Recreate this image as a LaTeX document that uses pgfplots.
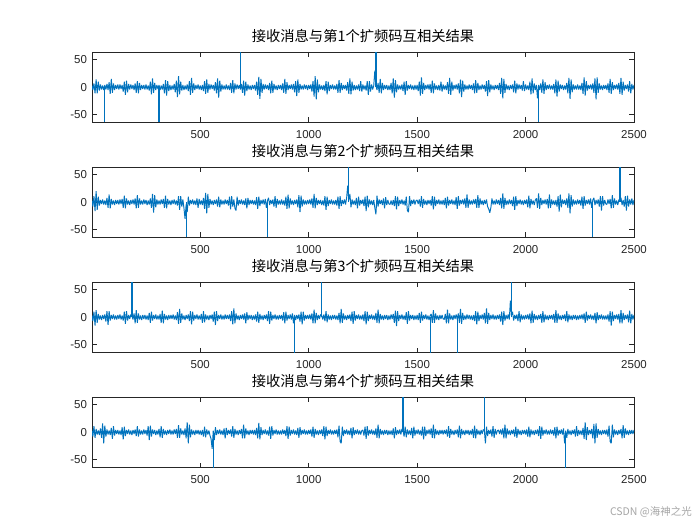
\documentclass[border=0pt]{standalone}
\usepackage{fontspec}
\setmainfont{Liberation Sans}
\newfontfamily\cjk{Noto Sans CJK SC}
\usepackage{pgfplots}
\usepackage{pgfplotstable}
\pgfplotsset{compat=1.18}
\definecolor{mblue}{HTML}{0072BD}
\definecolor{mgray}{HTML}{262626}

% correlation noise, every 5th sample (row i -> x = 5 i)
\pgfplotstableread[row sep=\\]{y\\
4\\-5\\7\\-11\\14\\-11\\10\\-6\\5\\-4\\3\\-5\\4\\-4\\6\\-5\\9\\-12\\15\\-10\\7\\-5\\4\\-3\\5\\
-4\\5\\-3\\4\\-8\\10\\-14\\12\\-9\\6\\-4\\5\\-3\\4\\-5\\7\\-10\\11\\-11\\8\\-5\\4\\-3\\4\\-4\\
5\\-4\\3\\-6\\10\\-13\\16\\-10\\8\\-5\\4\\-3\\4\\-5\\3\\-4\\6\\-11\\13\\-15\\11\\-7\\4\\-5\\3\\
-4\\6\\-9\\12\\-18\\20\\-13\\10\\-6\\4\\-5\\3\\-4\\5\\-7\\11\\-14\\17\\-10\\7\\-5\\4\\-3\\5\\-4\\
3\\-5\\4\\-7\\11\\-12\\14\\-10\\6\\-4\\5\\-3\\4\\-6\\9\\-11\\16\\-19\\12\\-8\\5\\-4\\3\\-4\\5\\
-4\\3\\-5\\8\\-10\\13\\-11\\7\\-4\\5\\-3\\4\\-4\\6\\-10\\12\\-15\\10\\-7\\5\\-4\\3\\-5\\4\\-3\\
4\\-6\\10\\-14\\19\\-21\\15\\-10\\6\\-4\\5\\-3\\4\\-5\\8\\-11\\12\\-10\\6\\-4\\3\\-5\\4\\-3\\4\\
-5\\7\\-10\\15\\-12\\9\\-5\\4\\-3\\5\\-4\\6\\-9\\11\\-16\\14\\-10\\6\\-4\\3\\-4\\5\\-3\\4\\-5\\
4\\-3\\5\\-8\\11\\-17\\20\\-22\\14\\-9\\5\\-4\\3\\-5\\4\\-7\\11\\-13\\10\\-7\\4\\-3\\5\\-4\\3\\
-4\\6\\-10\\13\\-10\\8\\-5\\4\\-3\\4\\-6\\9\\-12\\16\\-13\\10\\-6\\4\\-5\\3\\-4\\5\\-7\\11\\-8\\
5\\-4\\3\\-6\\11\\-14\\11\\-8\\5\\-4\\3\\30\\4\\-5\\8\\-10\\15\\-11\\8\\-5\\4\\-3\\4\\-5\\3\\
-5\\8\\-11\\16\\-19\\13\\-9\\5\\-4\\3\\-4\\5\\-7\\10\\-14\\11\\-6\\4\\-3\\5\\-4\\3\\-5\\4\\-4\\
4\\-7\\10\\-15\\18\\-12\\8\\-5\\4\\-3\\5\\-4\\6\\-10\\12\\-11\\7\\-4\\3\\-5\\4\\-6\\10\\-8\\5\\
-4\\3\\-5\\9\\-12\\17\\-14\\10\\-6\\4\\-3\\5\\-4\\7\\-11\\14\\-18\\12\\-8\\5\\-4\\3\\-4\\5\\-3\\
4\\-5\\7\\-11\\13\\-10\\8\\-5\\3\\-4\\5\\-3\\4\\-8\\11\\-16\\13\\-9\\5\\-4\\3\\-5\\4\\-3\\4\\
-5\\8\\-12\\17\\-20\\15\\-10\\6\\-4\\3\\-5\\4\\-3\\5\\-9\\12\\-11\\7\\-4\\5\\-3\\4\\-6\\11\\-7\\
5\\-4\\3\\-5\\10\\-13\\16\\-11\\7\\-5\\4\\-20\\4\\-5\\7\\-10\\14\\-12\\9\\-5\\4\\-3\\5\\-4\\3\\
-4\\6\\-11\\14\\-17\\12\\-8\\5\\-3\\4\\-5\\3\\-4\\8\\-11\\17\\-21\\14\\-9\\5\\-4\\3\\-4\\5\\-4\\
3\\-5\\8\\-12\\18\\-15\\11\\-6\\4\\-3\\5\\-4\\7\\-10\\16\\-22\\18\\-10\\7\\-4\\3\\-5\\4\\-3\\4\\
-5\\7\\-10\\15\\-12\\9\\-5\\4\\-3\\5\\-4\\8\\-12\\17\\-14\\10\\-6\\4\\-3\\5\\-8\\11\\-11\\6\\-4\\
4\\
}\dataA

\pgfplotstableread[row sep=\\]{y\\
5\\-8\\11\\-16\\20\\-14\\10\\-6\\4\\-3\\5\\-4\\3\\-5\\8\\-10\\14\\-11\\6\\-4\\3\\-5\\4\\-3\\4\\
-4\\5\\-3\\6\\-10\\12\\-11\\7\\-4\\3\\-5\\4\\-3\\5\\-4\\7\\-11\\13\\-10\\7\\-4\\3\\-4\\5\\-3\\
4\\-5\\3\\-4\\7\\-10\\15\\-19\\13\\-9\\5\\-4\\3\\-4\\5\\-3\\6\\-10\\12\\-11\\6\\-4\\3\\-5\\4\\
-3\\5\\-4\\3\\-6\\11\\-14\\11\\-8\\5\\-11\\-30\\-4\\-18\\10\\-6\\4\\-3\\5\\-4\\3\\-5\\7\\-10\\6\\
-4\\3\\-5\\8\\-12\\17\\-20\\15\\-10\\6\\-4\\3\\-5\\4\\-3\\5\\-8\\10\\-9\\5\\-4\\3\\-4\\5\\-3\\
4\\-6\\10\\-13\\11\\-8\\5\\-11\\-15\\10\\-6\\4\\-3\\5\\-4\\3\\-5\\7\\-11\\8\\-5\\4\\-3\\4\\-4\\
3\\-5\\9\\-12\\10\\-7\\4\\-3\\5\\-4\\6\\-10\\3\\8\\-5\\4\\-3\\5\\-8\\11\\-10\\6\\-4\\3\\-4\\
5\\-4\\3\\-6\\10\\-12\\14\\-11\\7\\-4\\3\\-5\\4\\-3\\5\\-9\\13\\-18\\12\\-8\\5\\-4\\3\\-4\\4\\
-3\\5\\-4\\7\\-10\\15\\-11\\8\\-5\\4\\-3\\4\\-5\\3\\-6\\11\\-14\\10\\-7\\4\\-3\\5\\-4\\3\\-4\\
4\\-6\\10\\-12\\11\\-7\\4\\-3\\5\\-4\\8\\30\\4\\15\\-9\\5\\-4\\3\\-5\\8\\-11\\10\\-6\\4\\-3\\
5\\-7\\10\\-16\\12\\-9\\5\\-4\\3\\-5\\4\\-10\\-22\\12\\-8\\5\\-3\\4\\-5\\7\\-11\\9\\-5\\4\\-3\\
-4\\3\\-5\\4\\-7\\11\\-13\\10\\-7\\4\\-3\\5\\-4\\3\\-6\\10\\-15\\-18\\11\\-7\\4\\-3\\5\\-4\\3\\
4\\-3\\5\\-8\\11\\-10\\6\\-4\\3\\-5\\4\\-3\\4\\-6\\11\\-13\\10\\-7\\4\\-3\\5\\-4\\3\\-4\\4\\
-5\\8\\-11\\10\\-6\\4\\-3\\5\\-4\\3\\-5\\9\\-12\\11\\-6\\4\\-3\\5\\-4\\7\\-10\\14\\-10\\5\\-4\\
3\\-4\\5\\-3\\6\\-10\\13\\-10\\7\\-4\\3\\-5\\4\\-3\\5\\-8\\-12\\-19\\-10\\7\\-4\\3\\-4\\5\\-3\\
4\\-5\\8\\-11\\16\\-12\\8\\-5\\3\\-4\\5\\-3\\4\\-7\\10\\-14\\11\\-7\\4\\-3\\5\\-4\\3\\-5\\4\\
-3\\5\\-9\\12\\-11\\6\\-4\\3\\-5\\4\\7\\-10\\16\\-12\\8\\-5\\4\\-3\\5\\-4\\6\\-11\\14\\-10\\5\\
-4\\3\\-5\\4\\-8\\11\\-17\\14\\-9\\5\\-3\\4\\-5\\7\\-10\\16\\-20\\13\\-8\\5\\-4\\3\\-4\\5\\-3\\
4\\-6\\10\\-12\\11\\-6\\4\\-3\\5\\-4\\7\\-10\\4\\8\\-5\\4\\-3\\5\\-8\\11\\-15\\11\\-6\\4\\-3\\
-4\\5\\-3\\6\\-11\\13\\-10\\7\\-4\\3\\-5\\4\\6\\8\\-5\\4\\-8\\11\\-15\\12\\-8\\5\\-4\\7\\-5\\
4\\
}\dataB

\pgfplotstableread[row sep=\\]{y\\
4\\-7\\10\\-15\\13\\-10\\6\\-4\\3\\-5\\4\\-3\\5\\-8\\11\\-14\\11\\-6\\4\\-3\\5\\-4\\3\\-4\\4\\
-3\\5\\-4\\3\\-6\\10\\-12\\11\\-6\\4\\-3\\5\\3\\-4\\7\\-11\\13\\-10\\7\\-4\\3\\-5\\4\\-3\\4\\
-4\\3\\-5\\8\\-10\\10\\-6\\4\\-3\\5\\-4\\3\\-4\\6\\-10\\12\\-11\\6\\-4\\3\\-5\\4\\-3\\4\\-3\\
5\\-4\\3\\-5\\9\\-12\\15\\-10\\7\\-4\\3\\-5\\4\\-3\\5\\-7\\11\\-13\\10\\-6\\4\\-3\\5\\-4\\3\\
-4\\6\\-10\\11\\-9\\5\\-4\\3\\-5\\4\\-3\\5\\-8\\10\\-14\\11\\-7\\4\\-3\\5\\-4\\3\\-4\\5\\-3\\
4\\-3\\5\\-7\\11\\-13\\16\\-11\\7\\-4\\3\\-5\\4\\-3\\5\\-4\\7\\-11\\9\\-5\\4\\-3\\4\\-5\\3\\
-4\\5\\-8\\10\\-10\\6\\-4\\3\\-5\\4\\-3\\5\\-7\\11\\-12\\10\\-6\\4\\-3\\5\\-4\\3\\-4\\4\\-3\\
4\\-6\\9\\-11\\10\\-6\\4\\-3\\5\\-4\\7\\-11\\4\\-5\\4\\-3\\5\\-8\\10\\-13\\10\\-6\\4\\-3\\4\\
-3\\5\\-4\\7\\-11\\14\\-11\\8\\-5\\4\\-3\\5\\3\\-4\\5\\-7\\11\\-9\\5\\-4\\3\\-5\\4\\-3\\4\\
-4\\3\\-5\\8\\-11\\15\\-10\\7\\-4\\3\\-5\\4\\-3\\5\\-7\\10\\-12\\11\\-6\\4\\-3\\5\\-4\\3\\-4\\
5\\-7\\11\\-13\\10\\-7\\4\\-3\\5\\-4\\3\\-5\\8\\-10\\14\\-11\\6\\-4\\3\\-5\\4\\-3\\4\\-5\\3\\
-4\\5\\-3\\6\\-10\\12\\-16\\11\\-7\\4\\-3\\5\\-4\\3\\-5\\9\\-12\\11\\-6\\4\\-3\\4\\-5\\3\\-4\\
4\\-5\\8\\-10\\10\\-6\\4\\-3\\5\\-4\\3\\-5\\3\\6\\-10\\13\\-10\\7\\-4\\3\\-5\\4\\-3\\4\\-3\\
-4\\6\\-11\\14\\-11\\7\\-4\\3\\-5\\4\\-3\\5\\-4\\7\\-10\\15\\-12\\8\\-5\\3\\-4\\5\\-3\\4\\-4\\
3\\-5\\4\\-7\\11\\-13\\10\\-7\\4\\-3\\5\\-4\\8\\-11\\16\\-12\\8\\-5\\4\\-3\\5\\-4\\3\\-4\\4\\
-3\\5\\-8\\10\\-14\\11\\-6\\4\\-3\\5\\-4\\30\\4\\10\\-6\\4\\-3\\5\\-7\\11\\-9\\5\\-4\\3\\-4\\
4\\-3\\5\\-4\\7\\-11\\12\\-10\\6\\-4\\3\\-5\\4\\-3\\6\\-10\\11\\-9\\5\\-4\\3\\-5\\4\\-3\\4\\
-4\\6\\-10\\13\\-10\\7\\-4\\3\\-5\\4\\-3\\5\\-7\\11\\-9\\5\\-4\\3\\-5\\4\\-3\\4\\-5\\3\\-4\\
4\\-3\\5\\-4\\7\\-10\\10\\-6\\4\\-3\\5\\-4\\3\\-5\\8\\-11\\9\\-5\\4\\-3\\5\\-4\\3\\-4\\3\\
-4\\5\\-8\\11\\-15\\10\\-7\\4\\-3\\5\\-4\\6\\-11\\13\\-11\\8\\-5\\4\\-3\\5\\-9\\12\\-11\\6\\-4\\
4\\
}\dataC

\pgfplotstableread[row sep=\\]{y\\
5\\-8\\11\\-10\\6\\-4\\3\\-5\\7\\-10\\16\\-20\\12\\-8\\5\\-4\\3\\-5\\8\\-12\\11\\-6\\4\\-3\\4\\
-4\\3\\-5\\9\\-13\\10\\-7\\4\\-3\\5\\-4\\3\\-5\\4\\-3\\5\\-7\\11\\-8\\5\\-4\\3\\-4\\5\\-3\\
4\\-6\\11\\-14\\12\\-8\\5\\-3\\4\\-5\\3\\-4\\6\\-9\\11\\-10\\6\\-4\\3\\-5\\4\\-3\\5\\-4\\3\\
-4\\5\\-3\\6\\-10\\13\\-10\\7\\-4\\3\\-5\\7\\-11\\18\\-20\\14\\-9\\5\\-4\\3\\-5\\4\\-3\\4\\-4\\
3\\-5\\4\\-8\\10\\-9\\5\\-4\\3\\-6\\-12\\-30\\3\\-14\\9\\-5\\4\\-3\\5\\-4\\3\\-5\\7\\-11\\8\\
-5\\4\\-3\\5\\-8\\11\\-10\\6\\-4\\3\\-5\\4\\-3\\6\\-11\\14\\-11\\7\\-4\\3\\-5\\4\\-3\\4\\-4\\
4\\-5\\8\\-11\\17\\-13\\9\\-5\\4\\-3\\5\\-4\\3\\-6\\10\\-12\\11\\-6\\4\\-3\\5\\-4\\3\\-4\\3\\
-4\\5\\-3\\4\\-7\\11\\-12\\10\\-6\\4\\-3\\5\\-4\\3\\-5\\8\\-10\\9\\-5\\4\\-3\\5\\-4\\3\\-4\\
4\\-3\\5\\-8\\10\\-10\\6\\-4\\3\\-5\\4\\-3\\5\\-7\\11\\-13\\10\\-7\\4\\-3\\5\\-4\\3\\-4\\4\\
-3\\5\\-9\\12\\-17\\-20\\10\\-7\\4\\-3\\5\\-4\\3\\-5\\8\\-11\\9\\-5\\4\\-3\\5\\-4\\3\\-4\\3\\
4\\-6\\10\\-12\\11\\-6\\4\\-3\\5\\-4\\3\\-5\\7\\-10\\14\\-11\\6\\-4\\3\\-5\\4\\-3\\4\\-5\\3\\
-4\\3\\-5\\7\\-11\\9\\-5\\4\\-3\\5\\-4\\6\\4\\-8\\10\\-9\\5\\-4\\3\\-5\\8\\-11\\10\\-6\\4\\
-3\\5\\-4\\3\\-6\\10\\-13\\10\\-7\\4\\-3\\5\\-4\\7\\-10\\14\\-11\\6\\-4\\3\\-5\\4\\-3\\4\\-4\\
4\\-3\\5\\-8\\11\\-10\\6\\-4\\3\\-5\\4\\-3\\5\\-9\\12\\-11\\6\\-4\\3\\-5\\4\\-3\\4\\-5\\3\\
-4\\6\\-10\\12\\-11\\6\\-4\\3\\-5\\4\\-3\\5\\3\\-20\\10\\-7\\4\\-3\\5\\-8\\11\\-10\\6\\-4\\3\\
4\\-3\\5\\-4\\7\\-11\\14\\-11\\7\\-4\\3\\-5\\4\\-3\\5\\-8\\10\\-10\\6\\-4\\3\\-5\\4\\-3\\4\\
-4\\5\\-8\\10\\-9\\5\\-4\\3\\-5\\4\\-3\\5\\-7\\11\\-12\\10\\-6\\4\\-3\\5\\-4\\3\\-4\\5\\-3\\
4\\-6\\9\\-11\\10\\-6\\4\\-3\\5\\-4\\7\\-20\\3\\-10\\6\\-4\\3\\-5\\4\\-3\\5\\-8\\11\\-7\\4\\
-4\\3\\-5\\8\\-12\\18\\-14\\9\\-5\\4\\-3\\6\\-11\\15\\-20\\16\\-10\\6\\-4\\3\\-5\\4\\-3\\4\\-4\\
5\\-8\\12\\-17\\-20\\14\\-9\\5\\-4\\3\\-5\\4\\-3\\6\\-11\\13\\-10\\7\\-4\\3\\-5\\4\\-3\\4\\-3\\
4\\
}\dataD

\pgfplotsset{
  every axis/.append style={
    scale only axis, width=542pt, height=70.5pt,
    anchor=south west,
    xmin=1, xmax=2500, ymin=-64, ymax=64,
    xtick={500,1000,1500,2000,2500},
    ytick={-50,0,50},
    tick align=inside, tick pos=both,
    major tick length=5pt,
    axis line style={mgray, line width=0.6pt},
    every tick/.style={mgray, line width=0.6pt},
    tick label style={font=\fontsize{11.5}{13}\selectfont, text=mgray},
    /pgf/number format/assume math mode=true,
    /pgf/number format/1000 sep={},
    xticklabel style={yshift=-4pt},
    yticklabel style={xshift=-1.5pt},
    title style={at={(0.5,1)}, anchor=south, yshift=0pt,
      font=\cjk\fontsize{14.3}{16}\selectfont, text=black},
    clip=true,
  },
  sig/.style={mblue, line width=0.95pt, line join=bevel, no marks},
  peak/.style={mblue, line width=1.25pt, ycomb, no marks},
}

\begin{document}
\begin{tikzpicture}
\fill[white] (0,0) rectangle (700pt,525pt);
\path[use as bounding box] (0,0) rectangle (700pt,525pt);

\begin{axis}[at={(92pt,402.5pt)}, title={接收消息与第1个扩频码互相关结果}]
\addplot[sig] table[x expr=\coordindex*5, y=y] {\dataA};
\addplot[peak] coordinates {(60,-64) (310,-64) (685,64) (1310,64) (2060,-64)};
\end{axis}

\begin{axis}[at={(92pt,287.5pt)}, title={接收消息与第2个扩频码互相关结果}]
\addplot[sig] table[x expr=\coordindex*5, y=y] {\dataB};
\addplot[peak] coordinates {(435,-64) (810,-64) (1185,64) (2310,-64) (2435,64)};
\end{axis}

\begin{axis}[at={(92pt,172.5pt)}, title={接收消息与第3个扩频码互相关结果}]
\addplot[sig] table[x expr=\coordindex*5, y=y] {\dataC};
\addplot[peak] coordinates {(185,64) (935,-64) (1060,64) (1560,-64) (1685,-64) (1935,64)};
\end{axis}

\begin{axis}[at={(92pt,57.5pt)}, title={接收消息与第4个扩频码互相关结果}]
\addplot[sig] table[x expr=\coordindex*5, y=y] {\dataD};
\addplot[peak] coordinates {(560,-64) (1435,64) (1810,64) (2185,-64)};
\end{axis}

\node[anchor=east, inner sep=0pt, text=black!35, font=\cjk\fontsize{10.5}{12}\selectfont] at (692pt,13pt) {CSDN @海神之光};
\end{tikzpicture}
\end{document}
